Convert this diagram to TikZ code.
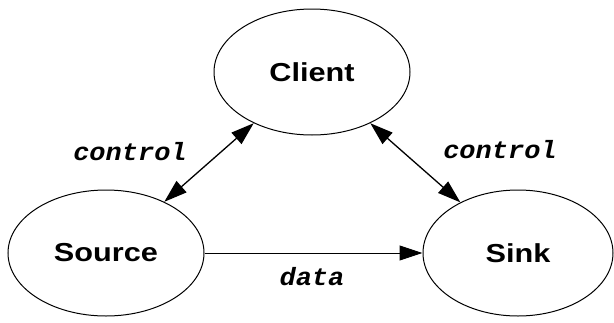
\documentclass[tikz,border=0pt]{standalone}
\usepackage{fontspec}
\setmainfont{Liberation Sans}
\newfontfamily\labelmono{Liberation Mono}
\usetikzlibrary{arrows.meta,shapes.geometric}
\tikzset{
  proc/.style={draw, line width=1pt, ellipse, inner sep=0pt,
    minimum width=196pt, minimum height=126pt,
    font=\fontsize{26}{26}\selectfont\bfseries},
  tip/.style={Triangle[length=23pt,width=15pt]},
  flow/.style={line width=1.3pt, {Triangle[length=23pt,width=15pt]}-{Triangle[length=23pt,width=15pt]}},
  oneway/.style={line width=1pt, -{Triangle[length=23pt,width=15pt]}},
  tag/.style={inner sep=0pt, font=\labelmono\fontsize{25}{25}\selectfont\bfseries\itshape}
}
\newcommand{\wide}[1]{\scalebox{1.18}[1]{#1}}
\newcommand{\widemono}[1]{\scalebox{1.08}[1]{#1}}
\begin{document}
\begin{tikzpicture}[x=1pt,y=-1pt]
  \useasboundingbox (0,0) rectangle (614,322);
  \node[proc] (cli) at (312,72) {\wide{Client}};
  \node[proc] (src) at (106,253) {\wide{Source}};
  \node[proc, minimum width=190pt] (snk) at (518,253) {\wide{Sink}};
  \draw[flow] (src) -- (cli);
  \draw[flow] (cli) -- (snk);
  \draw[oneway] (src) -- (snk);
  \node[tag] (c1) at (130,152) {\widemono{control}};
  \node[tag] (c2) at (500,150) {\widemono{control}};
  \node[tag] (d) at (312,277) {\widemono{data}};
\end{tikzpicture}
\end{document}
